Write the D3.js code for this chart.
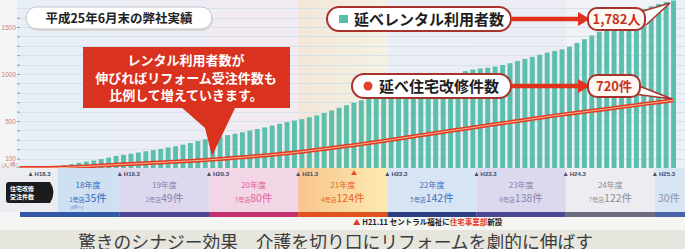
<!DOCTYPE html>
<html>
<head>
<meta charset="utf-8">
<script src="https://cdn.jsdelivr.net/npm/d3@7"></script>
<style>
  body { margin: 0; background: #fff; }
  svg { display: block; font-family: "Noto Sans CJK JP", "Noto Sans", sans-serif; }
</style>
</head>
<body>
<div id="chart"></div>
<script>
(() => {
  const W = 685
  const H = 249
  const PLOT = { left: 17, right: 676, top: 0, bottom: 168 }

  // months H18.2 .. H25.6 (one bar per month)
  const START_YEAR = 18
  const START_MONTH = 2
  const MONTH_COUNT = 89
  const months = []
  for (let i = 0; i < MONTH_COUNT; i++) {
    const m = (START_MONTH - 1 + i) % 12 + 1
    const yr = START_YEAR + Math.floor((START_MONTH - 1 + i) / 12)
    months.push(`H${yr}.${m}`)
  }

  // 延べレンタル利用者数 (cumulative, per month)
  const rentalUsers = [
    8, 10, 12, 15, 18, 22,
    30, 42, 55, 68, 80, 95, 110, 128,
    140, 152, 165, 178, 190, 203, 218, 232, 248, 265, 285, 305,
    322, 335, 350, 365, 380, 398, 415, 432, 452, 470, 488, 505,
    520, 540, 560, 585, 612, 640, 668, 695, 720, 745, 768, 790,
    812, 835, 858, 880, 902, 925, 948, 968, 988, 1008, 1030, 1048,
    1058, 1066, 1078, 1095, 1115, 1138, 1160, 1182, 1205, 1228, 1245, 1262,
    1290, 1330, 1370, 1410, 1450, 1490, 1530, 1570, 1610, 1650, 1690, 1720,
    1745, 1765, 1782
  ]

  // 延べ住宅改修件数 (cumulative, per month)
  const renovations = [
    0, 0, 0, 0, 0, 2, 5, 9, 13, 17, 21, 26, 30, 35,
    39, 43, 47, 51, 55, 59, 63, 67, 71, 75, 80, 84,
    90, 96, 102, 108, 114, 120, 127, 134, 141, 148, 156, 164,
    173, 183, 193, 203, 213, 223, 233, 243, 254, 265, 276, 288,
    300, 312, 324, 336, 348, 360, 372, 384, 396, 407, 418, 430,
    442, 454, 466, 477, 488, 499, 511, 523, 535, 546, 557, 568,
    578, 588, 598, 608, 618, 628, 638, 649, 659, 669, 680, 690,
    700, 710, 720
  ]

  // fiscal years
  const fyStart = ['H18.2', 'H19.4', 'H20.4', 'H21.4', 'H22.4', 'H23.4', 'H24.4', 'H25.4']
  const fyLabels = ['18年度', '19年度', '20年度', '21年度', '22年度', '23年度', '24年度', '']
  const fyShops = ['1号店', '2号店', '3号店', '4号店', '5号店', '6号店', '7号店', '']
  const fyCounts = [35, 49, 80, 124, 142, 138, 122, 30]
  const fyBand = ['#cfe0f2', '#ddd8ee', '#f3d6e6', 'url(#fy21)', '#d6e4f4', '#dcd8ee', '#ececf1', '#d8e6f4']
  const fyText = ['#2f6dc0', '#8682b0', '#e0609a', '#e8631e', '#3f6fb8', '#8884ac', '#8c8c9a', '#8e92a8']
  const fyStripe = ['#3458a8', '#4e4692', '#c4306e', '#e0521e', '#2a3f86', '#4c4a94', '#6c6c80', '#4565a8']

  const markers = ['H18.3', 'H19.3', 'H20.3', 'H21.3', 'H22.3', 'H23.3', 'H24.3', 'H25.3']
  const yLabels = [100, 500, 1000, 1500]

  const svg = d3.select('#chart').append('svg')
    .attr('width', W)
    .attr('height', H)

  const defs = svg.append('defs')
  const g21 = defs.append('linearGradient').attr('id', 'fy21')
  g21.append('stop').attr('offset', '0%').attr('stop-color', '#f8c48e')
  g21.append('stop').attr('offset', '100%').attr('stop-color', '#fcebb0')

  const x = d3.scaleBand()
    .domain(months)
    .range([PLOT.left, PLOT.right])
    .paddingInner(0.34)
    .paddingOuter(0)

  const y = d3.scaleLinear()
    .domain([0, 1500])
    .range([PLOT.bottom, 27])

  const gap = x.step() - x.bandwidth()
  const startX = k => x(k) - gap / 2
  const endX = k => x(k) + x.bandwidth() + gap / 2
  const fyX0 = i => i === 0 ? PLOT.left : startX(fyStart[i])
  const fyX1 = i => i === fyStart.length - 1 ? PLOT.right + 9 : startX(fyStart[i + 1])

  // page background
  svg.append('rect').attr('width', W).attr('height', H).attr('fill', '#f4f5f6')

  // plot background, faint year tints
  svg.append('rect')
    .attr('x', PLOT.left).attr('y', 0)
    .attr('width', W - PLOT.left).attr('height', PLOT.bottom)
    .attr('fill', '#f1f4f7')
  svg.append('g').selectAll('rect')
    .data(fyStart)
    .join('rect')
    .attr('x', (d, i) => fyX0(i))
    .attr('y', 0)
    .attr('width', (d, i) => fyX1(i) - fyX0(i))
    .attr('height', PLOT.bottom)
    .attr('fill', (d, i) => fyBand[i])
    .attr('opacity', 0.28)

  // grid lines every 100
  const gridVals = d3.range(100, 1800, 100)
  svg.append('g').selectAll('line')
    .data(gridVals)
    .join('line')
    .attr('x1', PLOT.left).attr('x2', W)
    .attr('y1', d => Math.round(y(d)) + 0.5)
    .attr('y2', d => Math.round(y(d)) + 0.5)
    .attr('stroke', '#d5e2ec')
    .attr('stroke-width', 1)

  // y axis
  const yAxis = d3.axisLeft(y)
    .tickValues(gridVals.filter(v => v <= 1600))
    .tickSize(3)
    .tickPadding(1)
    .tickFormat(d => yLabels.includes(d) ? d : '')
  const yG = svg.append('g')
    .attr('transform', `translate(${PLOT.left + 3},0)`)
    .call(yAxis)
  yG.select('.domain').remove()
  yG.selectAll('line').attr('stroke', '#8c9ab0')
  yG.selectAll('text')
    .attr('fill', '#e27474')
    .attr('font-size', 6.5)
    .attr('font-family', 'Liberation Sans, sans-serif')
  svg.append('text')
    .attr('x', 1).attr('y', 167)
    .attr('font-size', 5.5)
    .attr('fill', '#d06666')
    .text('(人/件)')

  // bars
  svg.append('g').selectAll('rect')
    .data(rentalUsers)
    .join('rect')
    .attr('x', (d, i) => x(months[i]))
    .attr('width', x.bandwidth())
    .attr('y', d => y(d))
    .attr('height', d => PLOT.bottom - y(d))
    .attr('fill', '#5cbfae')

  // renovation line
  const line = d3.line()
    .x((d, i) => x(months[i]) + x.bandwidth() / 2)
    .y(d => y(d))
  svg.append('path')
    .datum(renovations)
    .attr('d', line)
    .attr('fill', 'none')
    .attr('stroke', '#e43a22')
    .attr('stroke-width', 4)
  svg.append('path')
    .datum(renovations)
    .attr('d', line)
    .attr('fill', 'none')
    .attr('stroke', '#f7b596')
    .attr('stroke-width', 1)

  // bottom year bands
  const bottom = svg.append('g')
  bottom.append('rect')
    .attr('x', 0).attr('y', PLOT.bottom)
    .attr('width', W).attr('height', 44)
    .attr('fill', '#ecedf0')
  bottom.selectAll('rect.band')
    .data(fyStart)
    .join('rect')
    .classed('band', true)
    .attr('x', (d, i) => i === 0 ? 58 : fyX0(i))
    .attr('y', PLOT.bottom)
    .attr('width', (d, i) => fyX1(i) - (i === 0 ? 58 : fyX0(i)))
    .attr('height', 44)
    .attr('fill', (d, i) => fyBand[i])

  // stripe
  bottom.selectAll('rect.stripe')
    .data(fyStart)
    .join('rect')
    .classed('stripe', true)
    .attr('x', (d, i) => i === 0 ? 20 : fyX0(i))
    .attr('y', 212)
    .attr('width', (d, i) => fyX1(i) - (i === 0 ? 20 : fyX0(i)))
    .attr('height', 5)
    .attr('fill', (d, i) => fyStripe[i])

  // markers ▲Hxx.3
  const mk = bottom.selectAll('g.mk')
    .data(markers)
    .join('g')
    .classed('mk', true)
    .attr('transform', d => `translate(${endX(d)},176)`)
  mk.append('path')
    .attr('d', 'M-2,0 L0,-4 L2,0 Z')
    .attr('fill', '#4a5068')
  mk.append('text')
    .attr('x', 4).attr('y', 0)
    .attr('font-size', 6)
    .attr('font-weight', 700)
    .attr('fill', '#3d4868')
    .attr('font-family', 'Liberation Sans, sans-serif')
    .text(d => d)

  // red marker H21.11
  const ev = x('H21.11') + x.bandwidth() / 2
  bottom.append('path')
    .attr('d', `M${ev - 3},175 L${ev},170 L${ev + 3},175 Z`)
    .attr('fill', '#e8502a')

  // year labels
  const yl = bottom.selectAll('g.yl')
    .data(fyStart)
    .join('g')
    .classed('yl', true)
    .attr('transform', (d, i) => `translate(${i === 0 ? 88 : (fyX0(i) + fyX1(i)) / 2 + (i === 7 ? -1 : 0)},0)`)
  yl.append('text')
    .attr('y', 188)
    .attr('text-anchor', 'middle')
    .attr('font-size', 8)
    .attr('fill', (d, i) => fyText[i])
    .text((d, i) => fyLabels[i])
  const cnt = yl.append('text')
    .attr('y', 202)
    .attr('text-anchor', 'middle')
    .attr('fill', (d, i) => fyText[i])
  cnt.append('tspan')
    .attr('font-size', 6)
    .text((d, i) => fyShops[i])
  cnt.append('tspan')
    .attr('font-size', 10.5)
    .text((d, i) => fyCounts[i] + '件')
  bottom.append('text')
    .attr('x', 70).attr('y', 208.5)
    .attr('font-size', 4)
    .attr('fill', fyText[0])
    .text('(7月〜)')

  // left black label
  bottom.append('path')
    .attr('d', 'M9,182 L50,182 Q57,192 50,203 L9,203 Q6,203 6,200 L6,185 Q6,182 9,182 Z')
    .attr('fill', '#1c1c1c')
  bottom.append('text')
    .attr('x', 10).attr('y', 191)
    .attr('font-size', 6).attr('font-weight', 700)
    .attr('fill', '#fff')
    .text('住宅改修')
  bottom.append('text')
    .attr('x', 10).attr('y', 199)
    .attr('font-size', 6).attr('font-weight', 700)
    .attr('fill', '#fff')
    .text('受注件数')

  // note line
  svg.append('rect')
    .attr('x', 0).attr('y', 217)
    .attr('width', W).attr('height', 13)
    .attr('fill', '#f5f5f3')
  const note = svg.append('text')
    .attr('x', 353).attr('y', 225)
    .attr('font-size', 7.5)
    .attr('font-weight', 700)
    .attr('fill', '#222')
  note.append('tspan').attr('fill', '#e03a28').text('▲ ')
  note.append('tspan').text('H21.11 セントラル福祉に')
  note.append('tspan').attr('fill', '#e03a28').text('住宅事業部')
  note.append('tspan').text('新設')

  // caption
  svg.append('rect')
    .attr('x', 0).attr('y', 230)
    .attr('width', W).attr('height', 19)
    .attr('fill', '#e6e6de')
  svg.append('text')
    .attr('x', 78).attr('y', 249)
    .attr('font-size', 17.8)
    .attr('fill', '#3c3c3c')
    .text('驚きのシナジー効果　介護を切り口にリフォームを劇的に伸ばす')

  // title pill
  svg.append('rect')
    .attr('x', 27).attr('y', 9)
    .attr('width', 186).attr('height', 22).attr('rx', 11)
    .attr('fill', '#d8dadc')
  svg.append('rect')
    .attr('x', 26).attr('y', 7)
    .attr('width', 186).attr('height', 22).attr('rx', 11)
    .attr('fill', '#fff')
    .attr('stroke', '#c4c6c8')
  svg.append('text')
    .attr('x', 119).attr('y', 23)
    .attr('text-anchor', 'middle')
    .attr('font-size', 12.5)
    .attr('font-weight', 700)
    .attr('fill', '#222')
    .text('平成25年6月末の弊社実績')

  // red callout
  const callout = svg.append('g')
  callout.append('path')
    .attr('d', 'M180,106 L236,106 L212,156 L205,128 Z')
    .attr('fill', '#d9321f')
  callout.append('rect')
    .attr('x', 83).attr('y', 47)
    .attr('width', 207).attr('height', 61)
    .attr('fill', '#d9321f')
  const calloutLines = ['レンタル利用者数が', '伸びればリフォーム受注件数も', '比例して増えていきます。']
  callout.selectAll('text')
    .data(calloutLines)
    .join('text')
    .attr('x', 186)
    .attr('y', (d, i) => 65 + i * 17.5)
    .attr('text-anchor', 'middle')
    .attr('font-size', 13)
    .attr('font-weight', 700)
    .attr('fill', '#fff')
    .text(d => d)

  // legend pills, arrows, value boxes
  const legend = [
    { label: '延べレンタル利用者数', value: '1,782人', x: 327, y: 7, w: 184, vw: 57, key: 'bar' },
    { label: '延べ住宅改修件数', value: '720件', x: 352, y: 74, w: 159, vw: 52, key: 'line' }
  ]
  const border = '#a8322c'
  legend.forEach(l => {
    const lg = svg.append('g')
    const cy = l.y + 12
    lg.append('rect')
      .attr('x', l.x).attr('y', l.y)
      .attr('width', l.w).attr('height', 24).attr('rx', 12)
      .attr('fill', '#fff')
      .attr('stroke', border).attr('stroke-width', 2)
    if (l.key === 'bar') {
      lg.append('rect')
        .attr('x', l.x + 12).attr('y', cy - 4)
        .attr('width', 9).attr('height', 8)
        .attr('fill', '#59bdac')
    } else {
      lg.append('circle')
        .attr('cx', l.x + 16).attr('cy', cy)
        .attr('r', 4.5)
        .attr('fill', '#e4432a')
    }
    lg.append('text')
      .attr('x', l.x + 27).attr('y', cy + 5.5)
      .attr('font-size', 15)
      .attr('font-weight', 700)
      .attr('fill', '#1e1e1e')
      .text(l.label)
    lg.append('line')
      .attr('x1', l.x + l.w + 1).attr('x2', 580)
      .attr('y1', cy).attr('y2', cy)
      .attr('stroke', '#e2321e').attr('stroke-width', 4.5)
    lg.append('path')
      .attr('d', `M578,${cy - 7} L590,${cy} L578,${cy + 7} Z`)
      .attr('fill', '#e2321e')
    // bubble tail
    if (l.key === 'bar') {
      lg.append('path')
        .attr('d', `M640,${l.y + 5} L670,${l.y - 4} L646,${l.y + 18}`)
        .attr('fill', '#fff').attr('stroke', border).attr('stroke-width', 1.5)
    } else {
      lg.append('path')
        .attr('d', `M634,${l.y + 10} L672,${l.y + 25} L634,${l.y + 20}`)
        .attr('fill', '#fff').attr('stroke', border).attr('stroke-width', 1.5)
    }
    lg.append('rect')
      .attr('x', 588).attr('y', l.y + 1)
      .attr('width', l.vw).attr('height', 22).attr('rx', 9)
      .attr('fill', '#fff7f2')
      .attr('stroke', border).attr('stroke-width', 2)
    lg.append('text')
      .attr('x', 588 + l.vw / 2).attr('y', cy + 5)
      .attr('text-anchor', 'middle')
      .attr('font-size', 13)
      .attr('font-weight', 700)
      .attr('fill', '#c4321e')
      .text(l.value)
  })
})()
</script>
</body>
</html>
